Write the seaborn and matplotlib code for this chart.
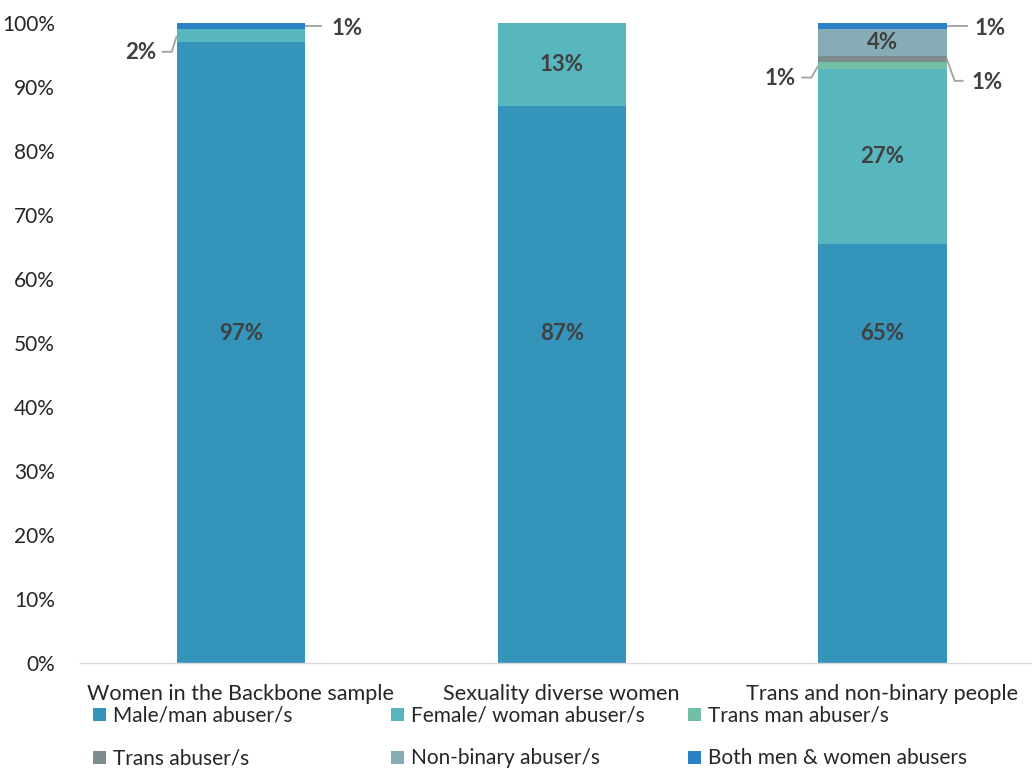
import matplotlib
matplotlib.use("Agg")
import matplotlib.pyplot as plt
from matplotlib.patches import Patch
import pandas as pd
import seaborn as sns

# Groups of respondents and the share of abuser gender in each (percent)
groups = ["Women in the Backbone sample", "Sexuality diverse women", "Trans and non-binary people"]
series = ["Male/man abuser/s", "Female/ woman abuser/s", "Trans man abuser/s",
          "Trans abuser/s", "Non-binary abuser/s", "Both men & women abusers"]
male = [97, 87, 65.4]
female = [2, 13, 27.4]
trans_man = [0, 0, 1.1]
trans = [0, 0, 1.0]
non_binary = [0, 0, 4.1]
both = [1, 0, 1.0]

colors = ["#3594BA", "#58B6BF", "#73BFA6", "#7B8B8E", "#86ADB6", "#2A82C6"]

values = [male, female, trans_man, trans, non_binary, both]
df = pd.DataFrame({s: v for s, v in zip(series, values)}, index=groups)
cum = df.cumsum(axis=1)

sns.set_theme(style="white")
plt.rcParams["font.family"] = ["Lato", "DejaVu Sans"]

fig = plt.figure(figsize=(10.32, 7.71), dpi=100)
ax = fig.add_axes([80 / 1032, 1 - 663 / 771, 1 - 80 / 1032, (663 - 23) / 771])

BAR_W = 0.4
# draw the stack from the top down so each layer covers the one above it
for s, c in reversed(list(zip(series, colors))):
    sns.barplot(x=groups, y=cum[s].values, color=c, width=BAR_W, ax=ax,
                saturation=1, linewidth=0, order=groups)

ax.set_xlim(-0.5016, 2.466)
ax.set_ylim(0, 100)
ax.set_yticks(range(0, 101, 10))
ax.set_yticklabels([f"{t}%" for t in range(0, 101, 10)], fontsize=15, color="#262626")
ax.tick_params(axis="y", length=0, pad=18)
ax.tick_params(axis="x", length=0, pad=15, labelsize=15.6, labelcolor="#262626")
ax.set_xlabel("")
ax.set_ylabel("")
for side in ["left", "right", "top"]:
    ax.spines[side].set_visible(False)
ax.spines["bottom"].set_color("#D9D9D9")
ax.spines["bottom"].set_linewidth(1)

LBL = dict(fontsize=16, fontweight="bold", color="#404040")
PX_X = 321.0   # pixels per category unit
PX_Y = 6.4     # pixels per percent

def fmt(v):
    return f"{round(v):.0f}%"

# labels inside the larger segments
for i, g in enumerate(groups):
    ax.text(i, 51.5, fmt(male[i]), ha="center", va="center", **LBL)
inside = [(1, female, 1), (2, female, 1), (2, non_binary, 4)]
for i, arr, k in inside:
    top = cum.iloc[i, k]
    mid = top - arr[i] / 2
    ax.text(i, mid, fmt(arr[i]), ha="center", va="center", **LBL)

# small segments labelled outside the bar with leader lines
def leader(i, k, side, path, text_dx, text_dy):
    val = values[k][i]
    mid = cum.iloc[i, k] - val / 2
    x0 = i + side * BAR_W / 2
    xs = [x0 + side * dx / PX_X for dx, dy in path]
    ys = [mid - dy / PX_Y for dx, dy in path]
    ax.plot([x0] + xs, [mid] + ys, color="#A6A6A6", lw=1.4, solid_capstyle="butt",
            clip_on=False)
    ax.text(xs[-1] + side * text_dx / PX_X, ys[-1] - text_dy / PX_Y, fmt(val),
            ha="left" if side > 0 else "right", va="center", **LBL)

leader(0, 1, -1, [(5, 16), (15, 16)], 6, 1)
leader(0, 5, 1, [(17, 0)], 9, 2)
leader(2, 5, 1, [(21, 0)], 7, 2)
leader(2, 2, -1, [(7, 12), (17, 12)], 6, 1)
leader(2, 3, 1, [(8, 22), (17, 22)], 8, 2)

# legend: three columns of two entries
handles = [Patch(facecolor=c, edgecolor="none", label=s) for s, c in zip(series, colors)]
col_x = [93, 391, 688]
for j in range(3):
    leg = fig.legend(handles=[handles[j], handles[j + 3]], loc="upper left",
                     bbox_to_anchor=(col_x[j] / 1032, 1 - 706 / 771),
                     frameon=False, fontsize=15, handlelength=0.6, handleheight=0.6,
                     handletextpad=0.35, labelspacing=1.08, borderpad=0,
                     borderaxespad=0, labelcolor="#262626")

fig.savefig("out.png", dpi=100)
